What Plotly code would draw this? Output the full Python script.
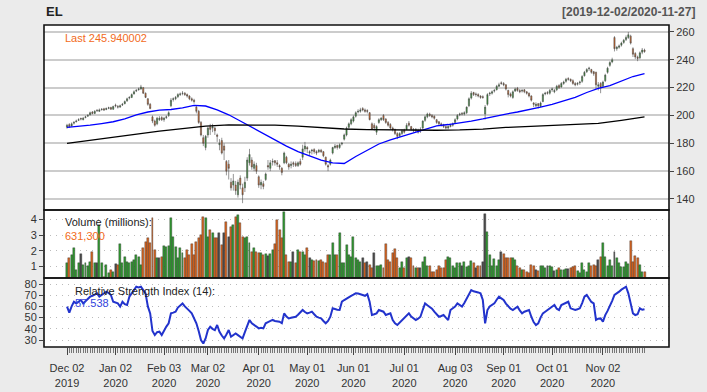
import pandas as pd
import plotly.graph_objects as go

# ---------------- data ----------------
holidays = ["2019-12-25", "2020-01-01", "2020-01-20", "2020-02-17", "2020-04-10",
            "2020-05-25", "2020-07-03", "2020-09-07", "2020-11-26"]
dates = [d for d in pd.bdate_range("2019-12-02", "2020-11-27")
         if d.strftime("%Y-%m-%d") not in holidays]

open_ = (
    [191.5, 193.5, 192.5, 194.5, 195.5, 196.5, 197.8, 197, 198.5, 199.5, 200.5, 202.5, 201.5, 203.8, 203, 204.2, 204.8, 204.3, 205.2, 205.8, 204.5]
    + [207.5, 206.5, 206, 207.5, 208.5, 210.5, 212.5, 213, 215.5, 217.5, 218.5, 219, 220, 216, 212, 208, 199, 196, 194, 197, 198.5]
    + [197, 198.5, 200, 207, 211.5, 212, 213.5, 215, 215.8, 216, 215, 214, 212, 211, 206, 203, 195, 184, 177]
    + [186, 192, 191, 191, 186, 179, 182, 178, 167, 165, 152, 150, 150, 143, 155, 148, 148, 155, 166, 168, 162, 164]
    + [156, 150, 151, 154, 164, 162, 166.5, 167.5, 166, 164, 162, 166, 170, 165, 164, 166, 165.5, 164, 167, 170, 176]
    + [177, 173, 174.5, 175.5, 174, 174, 175, 174, 170, 164, 165, 173, 177, 178.5, 177, 179.5, 183, 186, 191.5, 194]
    + [196, 199.5, 202.5, 203, 205, 204, 203.5, 202, 194, 193, 188, 195, 197, 200, 197.5, 195, 193.5, 191, 190, 187, 185.5, 187]
    + [189.5, 190, 194.5, 192, 190, 189, 189.5, 190, 191, 196.5, 199, 201, 200, 199.5, 197, 195.5, 194, 193.5, 192, 191, 192, 193]
    + [195, 197.5, 200.5, 201.5, 201, 202, 207, 212.5, 216.5, 215.5, 215, 214, 213.5, 201, 208, 215.5, 216, 217.5, 218.5, 221, 223.5]
    + [223, 222, 218, 215.5, 213, 217.5, 219.5, 218, 217.5, 218.5, 217, 216, 214, 209, 207, 208.5, 206.5, 210, 215.5, 216.5, 216]
    + [218.5, 217, 218.5, 221.5, 220.5, 223, 224.5, 226.5, 226, 225, 223, 222.5, 223.5, 224.5, 228.5, 231.5, 233.5, 233, 231.5, 231, 221, 223]
    + [221, 225, 231, 236, 238.5, 256, 248, 249, 250.5, 252.5, 254.5, 256, 257, 248, 244.5, 242, 241.5, 245.5, 247]
)
high = (
    [194, 194.5, 195, 196, 197, 198, 198.5, 199, 199.8, 201, 202.8, 203.2, 203.8, 204.5, 205, 205.2, 205.5, 205.8, 206.3, 206.2, 207]
    + [208.5, 207.5, 207.8, 209, 210.8, 212.8, 213.8, 215.8, 218, 219, 220, 222, 220.5, 216.5, 212.5, 209, 200, 197, 199, 199.5, 199.5]
    + [199, 200, 203, 212.5, 213, 214, 216, 216.5, 217.5, 216.8, 215.8, 214.5, 213, 212, 207, 204, 196, 186, 186]
    + [192, 194, 194, 192, 187, 183, 184, 180, 168, 168, 155, 158, 153, 154, 157, 151, 156, 170, 176, 170, 167, 166]
    + [157, 154, 153, 159, 168, 168, 169, 168, 168, 165, 163, 174, 171, 166, 167, 167, 167, 167, 169, 179, 181]
    + [178, 175, 176, 176.5, 175, 176, 176, 174.5, 170.5, 165, 169, 177.5, 179.5, 179, 180, 181, 187, 192, 195, 198]
    + [200, 203, 204.5, 205.5, 206, 205, 204.5, 202.5, 195, 194.5, 193, 198, 199, 201, 198, 196, 194.5, 192, 190.5, 188, 188, 190]
    + [190.5, 194.5, 196, 192.5, 191, 191, 190.5, 191.5, 196.5, 200, 202, 202, 201, 200, 197.5, 196, 195, 194, 193, 193, 194, 195]
    + [198, 201, 202, 202.5, 203, 206.5, 213, 217.5, 217, 216.5, 216, 214.5, 214.5, 207.5, 216, 217, 218, 219, 222, 223.5, 224.5]
    + [224, 222.5, 218.5, 216.5, 218, 220, 220.5, 219, 219, 219, 217.5, 216.5, 214.5, 209.5, 209.5, 209, 210, 216, 217, 217.5, 219]
    + [220, 219, 222, 222.5, 224, 225, 227, 227.5, 226.5, 226, 224, 224, 225, 229, 232, 234, 235, 233.5, 232, 231.5, 224, 224]
    + [225, 230, 235, 239, 241.5, 257, 250, 251, 253, 255, 257.5, 260, 258, 249, 245.5, 243, 246, 248.5, 248]
)
low = (
    [190.5, 191, 192, 193.5, 195, 196, 196.5, 196.5, 198, 199, 200, 200.8, 201, 202.5, 202.5, 203.5, 203.2, 203.8, 204.5, 204, 204]
    + [205.8, 205, 205.5, 206.8, 208, 209.8, 211.5, 212.5, 215, 216.8, 217.8, 218.5, 215.5, 212.5, 207, 204.5, 194.5, 192, 193, 196, 196]
    + [195.5, 197.5, 199, 206, 210, 211, 212.5, 214, 214.5, 214, 212.8, 211, 210, 208.5, 201.5, 194, 185, 178, 175]
    + [184, 186, 188, 186, 181, 175, 172, 168, 157, 154, 146, 146, 143, 141, 147, 137, 145, 153, 164, 161, 160, 158]
    + [148, 147, 147, 153, 161, 160, 164, 164, 163, 161, 157, 165, 165, 161, 162, 163, 163, 163, 164, 168, 174]
    + [173, 171, 172, 172.5, 171.5, 173, 173, 170, 164, 160, 164, 172, 176, 175.5, 176, 178.5, 182, 185, 190, 193]
    + [195, 198.5, 201.5, 202, 203, 202, 201.5, 196.5, 189.5, 189, 186, 194, 196, 196, 194, 192, 190, 188.5, 186, 183, 184.5, 186]
    + [187, 189.5, 192, 189, 188, 188, 187, 187.5, 190, 195.5, 198, 199, 198, 197, 194, 193, 192, 191, 190, 190, 191.5, 192]
    + [194, 196.5, 199.5, 200, 200, 201, 206, 211.5, 214, 213.5, 213, 212, 212, 197, 207, 214, 215, 216.5, 218, 220.5, 222]
    + [221, 218, 213, 213, 212, 217, 217, 216, 216.5, 216, 215, 213, 210, 206, 206, 205, 206, 209.5, 214.5, 215, 215]
    + [217, 216, 217.5, 219, 220, 222, 223.5, 225, 224, 222, 221, 221.5, 222, 223.5, 228, 230.5, 232, 230, 228.5, 219, 218, 216]
    + [220, 224, 230, 235, 237.5, 246, 246.5, 248, 249.5, 251.5, 253.5, 255, 251, 242, 240.5, 239, 240.5, 244, 245]
)
close = (
    [193, 192, 194, 195, 196, 197, 197.5, 198, 199, 200, 202, 201.5, 203, 203.5, 204, 204.5, 204, 205, 205.5, 204.5, 206.5]
    + [207, 206, 207, 208, 210, 212, 213, 215, 217, 218, 219, 220.5, 216, 213, 208, 205, 196, 193, 198, 198, 197]
    + [198, 199, 202, 211, 212, 213, 215, 215.5, 216, 215, 214, 212, 211, 210, 203, 195, 186, 180, 185]
    + [191, 190, 192, 189, 185, 180, 173, 175, 160, 162, 148, 153, 146, 152, 150, 143, 152, 168, 172, 163, 165, 160]
    + [150, 152, 149, 158, 163, 166, 167, 166, 165, 163, 159, 173, 166, 163, 165, 165, 164, 166, 165, 176, 178]
    + [176, 174, 175, 174, 173, 175, 174, 171, 165, 163, 168, 177, 178, 177, 179, 180, 186, 191, 194, 197]
    + [199, 202, 203, 204, 204, 203, 203, 197, 190, 191, 192, 197, 198, 197, 195, 193, 191, 190, 187, 185, 187, 189]
    + [188, 193, 193, 190, 189, 190, 188, 189, 196, 199, 201, 200, 199, 198, 195, 194, 193, 192, 191, 192, 193, 194]
    + [197, 200, 201, 201, 202, 206, 212, 216, 215, 215, 214, 213, 213, 206, 215, 216, 217, 218, 221, 222, 223]
    + [222, 219, 215, 214, 217, 219, 218, 217, 218, 217, 216, 214, 211, 208, 208, 207, 209, 215, 216, 216, 218]
    + [219, 218, 221, 220, 223, 224, 226, 226, 225, 223, 222, 223, 224, 228, 231, 233, 234, 231, 230, 222, 222, 220]
    + [224, 229, 234, 238, 240, 248, 249, 250, 252, 254, 256, 258, 252, 244, 242, 241, 245, 247, 245.940002]
)
volume_m = [
    1.22, 1.53, 1.74, 2.2, 0.8, 1.22, 1.78, 1.11, 1.22, 1.01,
    1.32, 1.95, 1.22, 1.22, 3.64, 1.22, 0.37, 1.11, 0.58, 0.8,
    0.69, 1.15, 1.11, 2.43, 1.22, 1.64, 1.32, 1.22, 1.27, 1.43,
    1.74, 1.64, 1.11, 2.16, 2.54, 2.79, 2.48, 4.06, 2.06, 1.53,
    1.53, 1.64, 2.31, 2.27, 2.31, 4.06, 2.9, 2.27, 1.53, 2.16,
    1.85, 1.53, 2.06, 1.74, 2.41, 1.74, 2.58, 2.79, 3.0, 4.17,
    4.06, 2.9, 3.32, 3.11, 2.83, 2.79, 3.11, 2.37, 3.11, 3.85,
    2.9, 3.53, 3.64, 4.17, 4.27, 3.74, 2.9, 2.83, 2.9, 2.48,
    1.95, 2.2, 1.95, 1.85, 1.89, 1.74, 1.78, 1.7, 1.78, 2.06,
    2.41, 3.95, 3.32, 2.79, 4.48, 1.74, 1.32, 1.32, 1.95, 1.22,
    2.06, 1.95, 1.95, 1.74, 2.16, 1.53, 1.43, 1.37, 1.43, 1.37,
    1.43, 1.32, 1.22, 1.74, 1.74, 2.48, 1.74, 1.74, 3.11, 1.22,
    1.22, 2.37, 1.74, 1.64, 2.9, 1.53, 1.43, 1.32, 1.53, 1.22,
    1.32, 1.11, 0.9, 1.85, 1.01,
    1.01, 1.11, 0.9, 2.41, 1.43, 1.32, 1.85, 2.1, 1.53, 0.9,
    1.32, 0.9, 1.53, 1.64, 1.53, 1.01, 0.9, 0.9, 0.9, 1.32,
    1.6, 1.01, 1.01, 0.69, 0.69, 0.8, 1.01, 0.9, 0.9, 1.43,
    1.64, 1.57, 1.01, 0.9, 1.22, 1.22, 1.01, 1.32, 0.95, 1.01,
    1.37, 1.22, 0.9, 1.01, 1.01, 1.32,
    4.31, 3.21, 1.74, 1.01, 1.49, 1.05, 1.43, 1.95, 1.78, 1.57,
    1.57, 1.53, 1.57, 1.43, 1.01, 0.9, 0.8, 0.8, 0.69, 0.58,
    1.11, 1.01, 0.8, 0.74, 1.01, 1.01, 0.9, 1.01, 1.05, 0.95,
    0.74, 0.8, 0.9, 0.8, 0.8, 0.86, 0.86, 0.9, 0.95, 1.01,
    0.74, 0.58, 1.22, 0.8, 0.69, 1.22, 1.01, 1.11, 1.07, 1.43,
    1.6, 2.48, 1.64, 1.01, 1.43, 1.01, 1.95, 1.53, 1.22, 0.95,
    0.95, 1.32, 1.15, 2.62, 1.32, 1.7, 1.53, 1.11, 0.69, 0.6313,
]
rsi14 = [
    59.8, 54.4, 60, 64.2, 62.7, 64, 65.7, 62.7, 65, 67,
    68.7, 69.5, 70.5, 71.7, 68.7, 70, 71.5, 73.2, 72, 70.2,
    64.2, 63.5, 62.7, 59.8, 64.2, 62, 61.3, 68.7, 71.7, 74.5,
    77.6, 77, 77.6, 74.6, 71.7, 60, 53.8, 38, 34.4, 37,
    37.4, 34.4, 39, 42, 44.9, 53.8, 54.5, 55.3, 59, 61.3,
    62.7, 60, 58.3, 56, 53.8, 50, 44.9, 38, 29.9, 26.9,
    31.4, 38.9, 41.9, 40, 38.9, 43.4, 37.4, 34, 31.4, 35,
    38.9, 32.9, 34.5, 35.9, 34.4, 33, 31.4, 37, 41.9, 47.9,
    44.9, 43, 42, 40.4, 41, 40.4, 44.9, 46, 47, 47.9,
    47, 46.4, 46.4, 45, 53.8, 51, 49.3, 49.8, 50.5, 50.8,
    52.5, 54.5, 56.8, 55, 53.8, 54.5, 55.3, 53, 50.8, 50,
    49.3, 47, 44.9, 47, 50.8, 58.3, 57.5, 57, 56.8, 64.2,
    65.7, 67.2, 68.7, 69.5, 70.5, 71.7, 71.5, 71.1, 70.2, 69.5,
    71, 64.2, 52.3, 53, 53.8, 56.8, 56, 55.3, 52.3, 53,
    53.8, 47.9, 45, 43.4, 45.5, 47.9, 50, 52, 53.8, 51,
    49.3, 47.9, 49, 50.8, 57, 62.7, 61, 59.8, 58, 55.3,
    53, 50.8, 51.5, 52.3, 50, 47.9, 56.8, 58, 59.8, 62.7,
    61, 59.8, 63, 67.2, 71, 74.6, 73.5, 73.2, 72.5, 71.7,
    65.7, 44.9, 56.8, 60, 61.5, 62.7, 66, 68.7, 67.2, 65.7,
    62.5, 59.8, 58, 56.8, 58.5, 59.8, 56.5, 53.8, 55.3, 56,
    56.8, 50.8, 46, 43.4, 44.9, 50, 53.8, 55.3, 57, 58.3,
    60, 61.3, 58, 56.8, 61.3, 62.5, 63.5, 64.2, 58.3, 57.5,
    56.8, 57.5, 58.3, 63, 68.7, 70.2, 67, 64, 62.7, 47.9,
    49, 49.3, 46.4, 52.3, 56, 59.8, 65, 70.2, 71.5, 73.2,
    75, 76.5, 77.6, 71.7, 62, 53.8, 52.3, 53, 58.3, 57,
    57.538,
]
# SMA(50) read every 5th trading day, SMA(200) every 10th trading day
sma50_step = 5
sma50 = [191.5, 192, 193, 194.2, 195.5, 197.5, 200.5, 202.5, 203.8, 204.3,
         205.5, 207.3, 206.8, 204, 200.5, 196, 191.5, 187, 182, 178,
         174, 171, 168, 166, 165.5, 170.5, 175, 179.5, 182.5, 185,
         187.5, 190, 192.5, 193.5, 194.5, 196, 197.5, 199.5, 201, 202.5,
         204, 206, 208, 210.5, 213, 216.5, 219.5, 221.5, 225, 228, 230]
sma200_step = 10
sma200 = [180, 182.3, 184.6, 186.8, 188.7, 190.5, 192.3, 193.3, 193.4, 193,
          192.3, 191.2, 190.3, 189.8, 189.5, 189.4, 189.4, 189.6, 190.2, 191.4,
          192.2, 192.8, 193.5, 194.3, 196.5, 199]

n = len(dates)
for name, arr in [("open", open_), ("high", high), ("low", low), ("close", close),
                  ("volume", volume_m), ("rsi", rsi14)]:
    if len(arr) != n:
        raise SystemExit(f"{name} length {len(arr)} != {n}")

idx = list(range(n))

# ---------------- styling ----------------
GREEN = "#2E9A2E"
ORANGE = "#DA631C"
GREY = "#4A4A4A"
FONT = "Liberation Sans, Arial, Helvetica, sans-serif"

vol_colors = []
for i in idx:
    prev = close[i - 1] if i > 0 else open_[i]
    if close[i] > open_[i] and close[i] > prev:
        vol_colors.append(GREEN)
    elif close[i] < open_[i] and close[i] < prev:
        vol_colors.append(ORANGE)
    else:
        vol_colors.append(GREY)

fig = go.Figure()

fig.add_trace(go.Candlestick(
    x=idx, open=open_, high=high, low=low, close=close,
    increasing=dict(line=dict(color="#4D4D4D", width=0.6), fillcolor=GREEN),
    decreasing=dict(line=dict(color="#4D4D4D", width=0.6), fillcolor=ORANGE),
    whiskerwidth=0, xaxis="x", yaxis="y", hoverinfo="skip", showlegend=False,
))
fig.add_trace(go.Scatter(
    x=idx[::sma50_step], y=sma50, mode="lines",
    line=dict(color="#0000FF", width=1.3), xaxis="x", yaxis="y", showlegend=False,
))
fig.add_trace(go.Scatter(
    x=idx[::sma200_step], y=sma200, mode="lines",
    line=dict(color="#000000", width=1.3), xaxis="x", yaxis="y", showlegend=False,
))
fig.add_trace(go.Bar(
    x=idx, y=volume_m, marker=dict(color=vol_colors, line=dict(color="#333333", width=0.4)),
    width=0.85, xaxis="x2", yaxis="y2", showlegend=False,
))
fig.add_trace(go.Scatter(
    x=idx, y=rsi14, mode="lines", line=dict(color="#2233CC", width=2),
    xaxis="x3", yaxis="y3", showlegend=False,
))

# month-start ticks
tickvals, ticktext = [], []
for i, d in enumerate(dates):
    if i == 0 or d.month != dates[i - 1].month:
        tickvals.append(i)
        ticktext.append(d.strftime("%b %d") + "<br>" + d.strftime("%Y"))

xr = [-9.96, 260.6]
D_RSI = [0, 0.2143]
D_VOL = [0.2143, 0.4255]
D_PRICE = [0.4255, 1]

common_x = dict(range=xr, showgrid=False, zeroline=False, showline=False, fixedrange=True,
                automargin=False)

fig.update_layout(
    width=707, height=392,
    margin=dict(l=44, r=38, t=25, b=45, autoexpand=False),
    paper_bgcolor="#EBEBEB", plot_bgcolor="#FFFFFF",
    font=dict(family=FONT, size=11, color="#333333"),
    showlegend=False,
    bargap=0,
    xaxis=dict(domain=[0, 1], anchor="y", showticklabels=False, ticks="",
               rangeslider=dict(visible=False), **common_x),
    xaxis2=dict(domain=[0, 1], anchor="y2", matches="x", showticklabels=False, ticks="", **common_x),
    xaxis3=dict(domain=[0, 1], anchor="y3", matches="x", tickmode="array",
                tickvals=tickvals, ticktext=ticktext, ticks="outside", ticklen=7,
                tickcolor="#444444", tickwidth=1, ticklabelstandoff=4,
                tickfont=dict(size=11, color="#333333"),
                minor=dict(tickvals=idx, ticks="outside", ticklen=5, tickcolor="#777777", tickwidth=1),
                **common_x),
    yaxis=dict(domain=D_PRICE, anchor="x", side="right", range=[132.1, 265.0], automargin=False,
               tickvals=[140, 160, 180, 200, 220, 240, 260], ticks="outside", ticklen=4,
               tickcolor="#444444", showgrid=True, gridcolor="#CCCCCC", gridwidth=1.5,
               zeroline=False, tickfont=dict(size=11, color="#333333")),
    yaxis2=dict(domain=D_VOL, anchor="x2", side="left", range=[0.28, 4.59], automargin=False,
                tickvals=[1, 2, 3, 4], ticks="outside", ticklen=4, tickcolor="#444444",
                showgrid=True, gridcolor="#BBBBBB", gridwidth=1.3, griddash="1px,5px",
                zeroline=False, tickfont=dict(size=11, color="#333333")),
    yaxis3=dict(domain=D_RSI, anchor="x3", side="left", range=[23.75, 85.4], automargin=False,
                tickvals=[30, 40, 50, 60, 70, 80], ticks="outside", ticklen=4, tickcolor="#444444",
                showgrid=True, gridcolor="#BBBBBB", gridwidth=1.3, griddash="1px,5px",
                zeroline=False, tickfont=dict(size=11, color="#333333")),
)

# panel borders
for dom in (D_PRICE, D_VOL, D_RSI):
    fig.add_shape(type="rect", xref="paper", yref="paper", x0=0, x1=1, y0=dom[0], y1=dom[1],
                  line=dict(color="#111111", width=1.6), fillcolor="rgba(0,0,0,0)", layer="above")

last_close = close[-1]
last_vol = volume_m[-1]
last_rsi = rsi14[-1]
annos = [
    dict(text="<b>EL</b>", x=0, y=1.0404, xanchor="left", yanchor="middle",
         font=dict(size=13, color="#222222")),
    dict(text="<b>[%s/%s]</b>" % (dates[0].strftime("%Y-%m-%d"), dates[-1].strftime("%Y-%m-%d")),
         x=1.0448, y=1.0404, xanchor="right", yanchor="middle", font=dict(size=12, color="#555555")),
    dict(text="Last %.6f" % last_close, x=0.0304, y=0.9596, xanchor="left", yanchor="middle",
         font=dict(size=11, color="#F26B21")),
    dict(text="Volume (millions):", x=0.0304, y=0.3882, xanchor="left", yanchor="middle",
         font=dict(size=11, color="#222222")),
    dict(text="{:,}".format(int(round(last_vol * 1e6, -2))), x=0.0304, y=0.3447, xanchor="left",
         yanchor="middle", font=dict(size=11, color="#F26B21")),
    dict(text="Relative Strength Index (14):", x=0.0464, y=0.1739, xanchor="left", yanchor="middle",
         font=dict(size=11, color="#222222")),
    dict(text="%.3f" % last_rsi, x=0.0464, y=0.1366, xanchor="left", yanchor="middle",
         font=dict(size=11, color="#3344DD")),
]
for a in annos:
    fig.add_annotation(xref="paper", yref="paper", showarrow=False, **a)

fig.write_html(
    "out.html",
    config={"displayModeBar": False},
    post_script="document.body.style.margin='0px';document.body.style.background='#EBEBEB';",
)
